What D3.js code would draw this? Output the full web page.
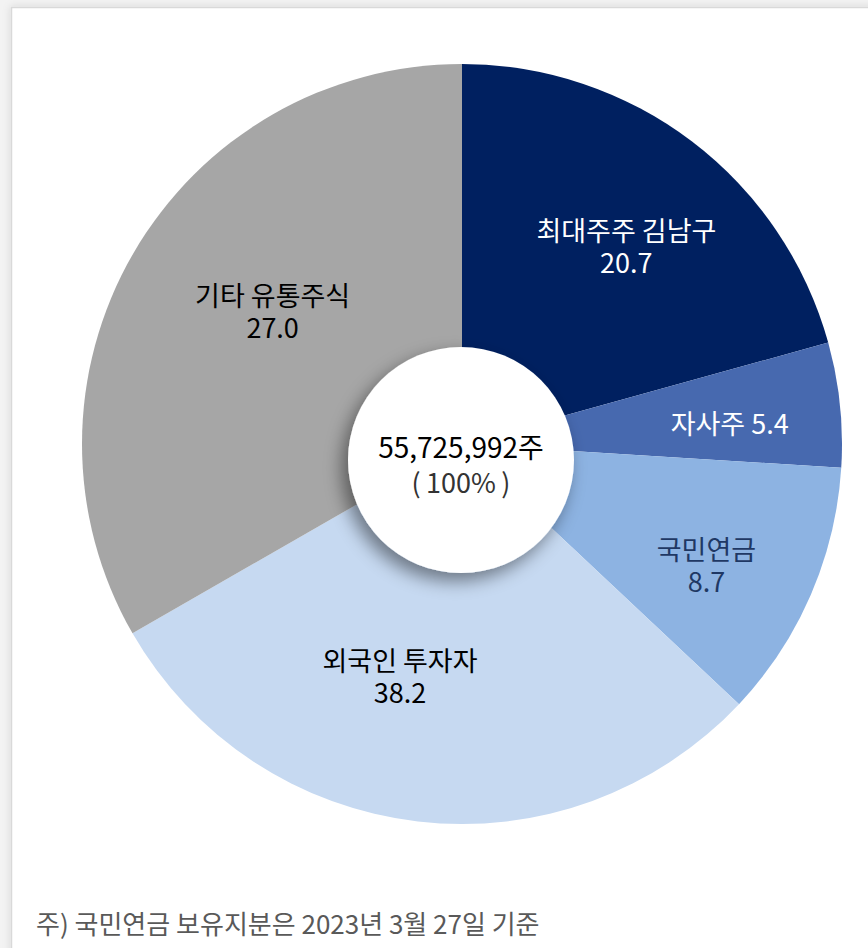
<!DOCTYPE html>
<html>
<head>
<meta charset="utf-8">
<script src="https://cdn.jsdelivr.net/npm/d3@7"></script>
<style>
  html, body { margin: 0; padding: 0; background: #f3f3f3; }
  svg { display: block; }
</style>
</head>
<body>
<div id="chart"></div>
<script>
const categories = ['최대주주 김남구', '자사주', '국민연금', '외국인 투자자', '기타 유통주식'];
// slice sizes as drawn in the picture (%)
const shares = [20.7, 5.3, 11.0, 29.7, 33.3];
// values printed on the labels (%)
const labelValues = [20.7, 5.4, 8.7, 38.2, 27.0];
const totalLabel = ['55,725,992주', '(\u2009100%\u2009)'];
const footnote = '주) 국민연금 보유지분은 2023년 3월 27일 기준';

const width = 868;
const height = 948;

const colors = ['#002060', '#4769AF', '#8DB3E2', '#C6D9F1', '#A6A6A6'];
const textColors = ['#ffffff', '#ffffff', '#1F3864', '#000000', '#000000'];
// label placement: one line or two, plus small nudges off the centroid
const oneLine = [false, true, false, false, false];
const nudge = [[13, 0], [19, 7], [15, 21], [-33, -17], [27, -9]];

const cx = 462, cy = 444;
const radius = 380;
const labelRadius = 250;
const holeR = 113;
const fontFamily = '"Noto Sans CJK KR", "Noto Sans", sans-serif';

const svg = d3.select('#chart').append('svg')
  .attr('width', width).attr('height', height);

const defs = svg.append('defs');
defs.append('filter').attr('id', 'frameShadow')
  .attr('x', '-5%').attr('y', '-5%').attr('width', '110%').attr('height', '110%')
  .append('feDropShadow')
  .attr('dx', 0).attr('dy', 0).attr('stdDeviation', 4)
  .attr('flood-color', '#000').attr('flood-opacity', 0.12);

defs.append('filter').attr('id', 'holeShadow')
  .attr('x', '-30%').attr('y', '-30%').attr('width', '160%').attr('height', '160%')
  .append('feDropShadow')
  .attr('dx', -6).attr('dy', 8).attr('stdDeviation', 9)
  .attr('flood-color', '#000').attr('flood-opacity', 0.45);

// frame
svg.append('rect')
  .attr('x', 11.5).attr('y', 7.5)
  .attr('width', 900).attr('height', 1000)
  .attr('fill', '#ffffff')
  .attr('stroke', '#d9d9d9')
  .attr('stroke-width', 1.5)
  .attr('filter', 'url(#frameShadow)');

const pie = d3.pie().sort(null).value(d => d);
const arcs = pie(shares);

const arc = d3.arc().innerRadius(0).outerRadius(radius);
const labelArc = d3.arc().innerRadius(labelRadius).outerRadius(labelRadius);

const g = svg.append('g').attr('transform', `translate(${cx},${cy})`);

g.selectAll('path.slice')
  .data(arcs)
  .join('path')
  .attr('class', 'slice')
  .attr('d', arc)
  .attr('fill', (d, i) => colors[i]);

// center hole
g.append('circle')
  .attr('cx', -1).attr('cy', 16)
  .attr('r', holeR)
  .attr('fill', '#ffffff')
  .attr('filter', 'url(#holeShadow)');

const fmt = d3.format('.1f');

const labels = g.selectAll('text.label')
  .data(arcs)
  .join('text')
  .attr('class', 'label')
  .attr('text-anchor', 'middle')
  .attr('font-family', fontFamily)
  .attr('font-size', '27px')
  .attr('fill', (d, i) => textColors[i])
  .attr('transform', (d, i) => {
    const c = labelArc.centroid(d);
    return `translate(${c[0] + nudge[i][0]},${c[1] + nudge[i][1]})`;
  });

labels.each(function(d, i) {
  const t = d3.select(this);
  if (oneLine[i]) {
    t.append('tspan').attr('x', 0).attr('y', 9)
      .text(`${categories[i]} ${fmt(labelValues[i])}`);
  } else {
    t.append('tspan').attr('x', 0).attr('y', -4).text(categories[i]);
    t.append('tspan').attr('x', 0).attr('y', 28).text(fmt(labelValues[i]));
  }
});

// total in the middle
g.append('text')
  .attr('text-anchor', 'middle')
  .attr('font-family', fontFamily)
  .attr('font-size', '28px')
  .attr('fill', '#000000')
  .attr('x', -1).attr('y', 14)
  .text(totalLabel[0]);

g.append('text')
  .attr('text-anchor', 'middle')
  .attr('font-family', fontFamily)
  .attr('font-size', '27px')
  .attr('fill', '#333333')
  .attr('x', -1).attr('y', 49)
  .text(totalLabel[1]);

svg.append('text')
  .attr('x', 36).attr('y', 934)
  .attr('font-family', fontFamily)
  .attr('font-size', '26px')
  .attr('fill', '#595959')
  .text(footnote);
</script>
</body>
</html>
